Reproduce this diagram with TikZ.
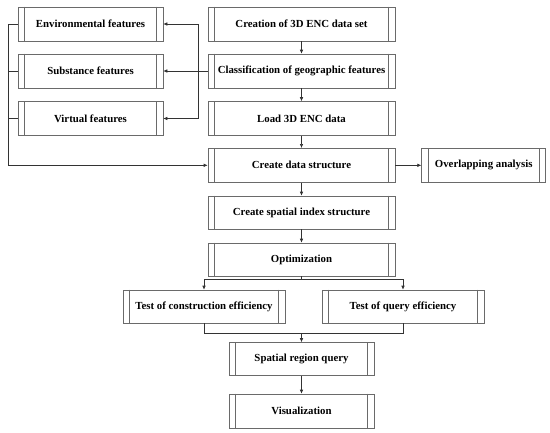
\documentclass[tikz,border=0pt]{standalone}
\usepackage{fontspec}
\setmainfont{Liberation Serif}
\usetikzlibrary{arrows.meta}
\definecolor{boxline}{HTML}{6A6A6A}
\definecolor{conline}{HTML}{333333}
\tikzset{
  proc/.style={draw=boxline, line width=0.6pt, rectangle, inner sep=0pt,
    font=\fontsize{10.8}{13}\selectfont\bfseries, text=black},
  conn/.style={draw=conline, line width=0.6pt},
  arr/.style={conn, -{Latex[length=4pt,width=3.6pt]}},
}
\newcommand{\sidebars}[1]{%
  \draw[draw=boxline, line width=0.6pt] ([xshift=6.8pt]#1.north west) -- ([xshift=6.8pt]#1.south west);
  \draw[draw=boxline, line width=0.6pt] ([xshift=-6.8pt]#1.north east) -- ([xshift=-6.8pt]#1.south east);}
\begin{document}
\begin{tikzpicture}[x=1pt,y=-1pt]
\useasboundingbox (0,0) rectangle (550,432);
% left column
\node[proc, minimum width=145pt, minimum height=34pt] (env) at (90.5,24) {Environmental features};
\node[proc, minimum width=145pt, minimum height=34pt] (sub) at (90.5,71) {Substance features};
\node[proc, minimum width=145pt, minimum height=34pt] (vir) at (90.5,118.5) {Virtual features};
% main column
\node[proc, minimum width=187pt, minimum height=34pt] (cre) at (301.5,24) {Creation of 3D ENC data set};
\node[proc, minimum width=187pt, minimum height=34pt] (cls) at (301.5,71) {Classification of geographic features};
\node[proc, minimum width=187pt, minimum height=34pt] (load) at (301.5,118.5) {Load 3D ENC data};
\node[proc, minimum width=187pt, minimum height=34pt] (cds) at (301.5,165.3) {Create data structure};
\node[proc, minimum width=124pt, minimum height=34pt] (ovl) at (483.7,165.3) {Overlapping analysis};
\node[proc, minimum width=187pt, minimum height=33pt] (csi) at (301.5,212.5) {Create spatial index structure};
\node[proc, minimum width=187pt, minimum height=33pt] (opt) at (301.5,259.5) {Optimization};
\node[proc, minimum width=162pt, minimum height=33pt] (tce) at (204,306.5) {Test of construction efficiency};
\node[proc, minimum width=162pt, minimum height=33pt] (tqe) at (403,306.5) {Test of query efficiency};
\node[proc, minimum width=145pt, minimum height=33pt] (srq) at (301.5,359) {Spatial region query};
\node[proc, minimum width=145pt, minimum height=34pt] (vis) at (301.5,411) {Visualization};
\foreach \n in {env,sub,vir,cre,cls,load,cds,ovl,csi,opt,tce,tqe,srq,vis}{\sidebars{\n}}
% main flow
\draw[arr] (cre) -- (cls);
\draw[arr] (cls) -- (load);
\draw[arr] (load) -- (cds);
\draw[arr] (cds) -- (ovl);
\draw[arr] (cds) -- (csi);
\draw[arr] (csi) -- (opt);
% classification fan-out
\coordinate (rb) at (198,71);
\draw[arr] (cls.west) -- (sub.east);
\draw[arr] (rb) |- (env.east);
\draw[arr] (rb) |- (vir.east);
% left bus
\coordinate (lb) at (8,24);
\draw[conn] (env.west) -- (lb);
\draw[conn] (sub.west) -- (lb |- sub.west);
\draw[conn] (vir.west) -- (lb |- vir.west);
\draw[arr] (lb) |- (cds.west);
% split
\coordinate (sp) at (301.5,279);
\draw[conn] (opt.south) -- (sp);
\draw[arr] (sp) -| (tce.north);
\draw[arr] (sp) -| (tqe.north);
% merge
\coordinate (mg) at (301.5,333);
\draw[conn] (tce.south) |- (mg);
\draw[conn] (tqe.south) |- (mg);
\draw[arr] (mg) -- (srq.north);
\draw[arr] (srq) -- (vis);
\end{tikzpicture}
\end{document}
